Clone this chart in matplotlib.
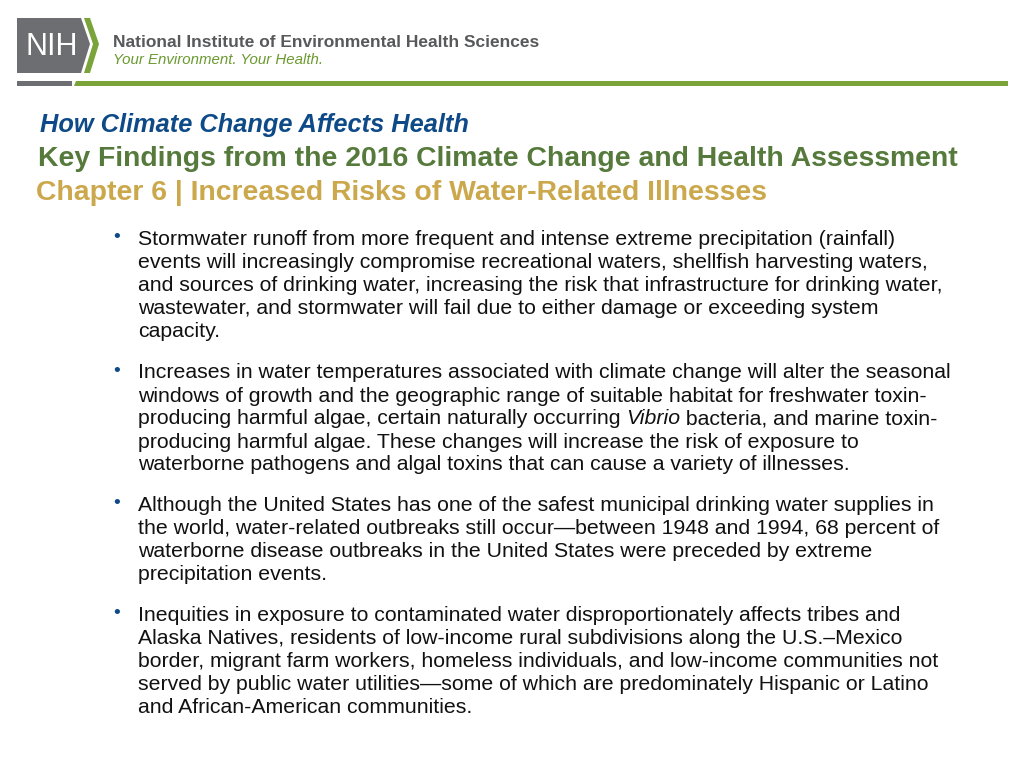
import matplotlib
matplotlib.use("Agg")
import matplotlib.pyplot as plt
from matplotlib.patches import Polygon, Rectangle

# slide text content
org_name = "National Institute of Environmental Health Sciences"
org_tagline = "Your Environment. Your Health."
title_1 = "How Climate Change Affects Health"
title_2 = "Key Findings from the 2016 Climate Change and Health Assessment"
title_3 = "Chapter 6 | Increased Risks of Water-Related Illnesses"

# each bullet is a list of lines, each line a list of (text, italic) runs
bullets = [
    [
        [("Stormwater runoff from more frequent and intense extreme precipitation (rainfall)", False)],
        [("events will increasingly compromise recreational waters, shellfish harvesting waters,", False)],
        [("and sources of drinking water, increasing the risk that infrastructure for drinking water,", False)],
        [("wastewater, and stormwater will fail due to either damage or exceeding system", False)],
        [("capacity.", False)],
    ],
    [
        [("Increases in water temperatures associated with climate change will alter the seasonal", False)],
        [("windows of growth and the geographic range of suitable habitat for freshwater toxin-", False)],
        [("producing harmful algae, certain naturally occurring ", False), ("Vibrio", True),
         (" bacteria, and marine toxin-", False)],
        [("producing harmful algae. These changes will increase the risk of exposure to", False)],
        [("waterborne pathogens and algal toxins that can cause a variety of illnesses.", False)],
    ],
    [
        [("Although the United States has one of the safest municipal drinking water supplies in", False)],
        [("the world, water-related outbreaks still occur\u2014between 1948 and 1994, 68 percent of", False)],
        [("waterborne disease outbreaks in the United States were preceded by extreme", False)],
        [("precipitation events.", False)],
    ],
    [
        [("Inequities in exposure to contaminated water disproportionately affects tribes and", False)],
        [("Alaska Natives, residents of low-income rural subdivisions along the U.S.\u2013Mexico", False)],
        [("border, migrant farm workers, homeless individuals, and low-income communities not", False)],
        [("served by public water utilities\u2014some of which are predominately Hispanic or Latino", False)],
        [("and African-American communities.", False)],
    ],
]
# baseline (px from top) of the first line of each bullet
bullet_baselines = [245, 378.5, 511, 621]

GRAY = "#6d6e71"
GREEN = "#7aa33a"
BLUE = "#0d4a87"
DARK_GREEN = "#557a3b"
GOLD = "#cca84c"
BODY = "#111111"

SANS = ["Liberation Sans", "DejaVu Sans"]

fig = plt.figure(figsize=(10.24, 7.68), dpi=100)
ax = fig.add_axes([0, 0, 1, 1])
ax.set_xlim(0, 1024)
ax.set_ylim(768, 0)
ax.axis("off")
renderer = fig.canvas.get_renderer()

# logo
ax.add_patch(Polygon([(17, 18), (81, 18), (90, 44), (81, 73), (17, 73)],
                     closed=True, color=GRAY, lw=0))
ax.add_patch(Polygon([(84, 18), (90, 18), (99, 44), (90, 73), (84, 73), (93, 44)],
                     closed=True, color=GREEN, lw=0))
ax.text(51.5, 55, "NIH", color="white", fontsize=22, family=SANS,
        ha="center", va="baseline")
ax.text(113, 47, org_name, color="#58595b", fontsize=12.5, family=SANS,
        fontweight="bold", va="baseline")
ax.text(113, 64, org_tagline, color="#6a9a2f", fontsize=10.8, family=SANS,
        style="italic", va="baseline")

# header rule
ax.add_patch(Rectangle((17, 81), 55, 5, color=GRAY, lw=0))
ax.add_patch(Polygon([(76, 81), (1008, 81), (1008, 86), (74, 86)],
                     closed=True, color=GREEN, lw=0))

# titles
ax.text(40, 132, title_1, color=BLUE, fontsize=18.3, family=SANS,
        fontweight="bold", style="italic", va="baseline")
ax.text(38, 166, title_2, color=DARK_GREEN, fontsize=20.4, family=SANS,
        fontweight="bold", va="baseline")
ax.text(36, 200, title_3, color=GOLD, fontsize=20.4, family=SANS,
        fontweight="bold", va="baseline")

# bullets
line_step = 23
for base, lines in zip(bullet_baselines, bullets):
    ax.text(116.5, base - 7, "\u2022", color=BLUE, fontsize=14, family=SANS,
            ha="center", va="center")
    for i, runs in enumerate(lines):
        x = 138
        y = base + i * line_step
        for txt, ital in runs:
            t = ax.text(x, y, txt, color=BODY, fontsize=15.35, family=SANS,
                        style="italic" if ital else "normal", va="baseline")
            x += t.get_window_extent(renderer).width

fig.savefig("out.png", dpi=100)
